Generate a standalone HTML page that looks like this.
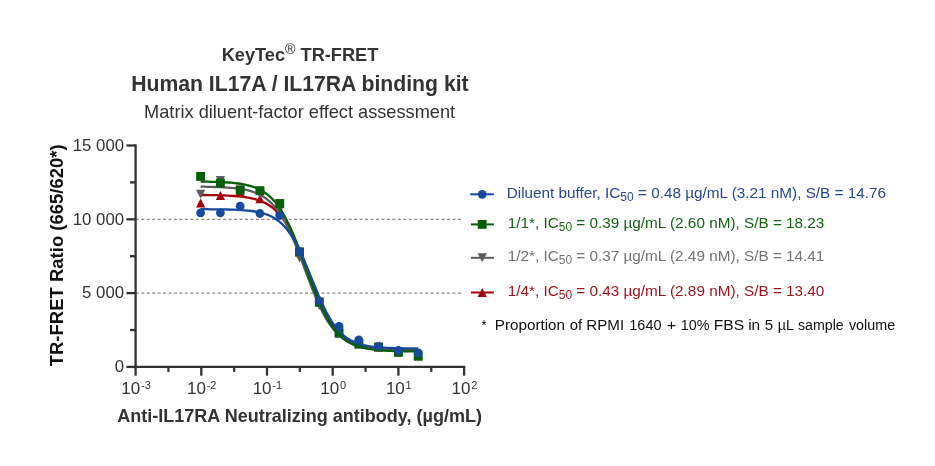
<!DOCTYPE html><html><head><meta charset="utf-8"><style>html,body{margin:0;padding:0;background:#fff}svg{display:block;will-change:transform}text{font-family:"Liberation Sans",sans-serif}</style></head><body>
<svg width="935" height="466" viewBox="0 0 935 466">
<rect width="935" height="466" fill="#fff"/>
<text x="300" y="60.7" text-anchor="middle" font-size="18.2" font-weight="bold" fill="#333333">KeyTec<tspan font-size="14.2" font-weight="normal" dy="-7.1">®</tspan><tspan dy="7.1"> TR-FRET</tspan></text>
<text x="299.9" y="91.3" text-anchor="middle" font-size="21.2" font-weight="bold" fill="#333333">Human IL17A / IL17RA binding kit</text>
<text x="299.6" y="118" text-anchor="middle" font-size="18.2" fill="#333333">Matrix diluent-factor effect assessment</text>
<line x1="135.7" y1="293.10" x2="461.6" y2="293.10" stroke="#8c8c8c" stroke-width="1.2" stroke-dasharray="3.1 2.36"/>
<line x1="135.7" y1="219.30" x2="461.6" y2="219.30" stroke="#8c8c8c" stroke-width="1.2" stroke-dasharray="3.1 2.36"/>
<path d="M200.6 195.0 L204.0 195.0 L207.4 195.1 L210.8 195.1 L214.2 195.2 L217.6 195.2 L221.0 195.3 L224.4 195.4 L227.8 195.6 L231.2 195.8 L234.6 196.0 L238.0 196.3 L241.4 196.6 L244.8 197.1 L248.2 197.6 L251.6 198.3 L255.0 199.1 L258.4 200.2 L261.8 201.4 L265.2 203.0 L268.6 205.0 L272.0 207.3 L275.4 210.2 L278.8 213.6 L282.2 217.7 L285.6 222.4 L289.0 227.9 L292.4 234.2 L295.8 241.2 L299.2 248.9 L302.6 257.1 L306.0 265.7 L309.4 274.4 L312.8 283.1 L316.2 291.6 L319.6 299.5 L323.0 306.9 L326.4 313.6 L329.8 319.5 L333.2 324.7 L336.6 329.1 L340.0 332.8 L343.4 336.0 L346.8 338.6 L350.2 340.8 L353.6 342.5 L357.0 344.0 L360.4 345.1 L363.8 346.1 L367.2 346.8 L370.6 347.5 L374.0 348.0 L377.4 348.4 L380.8 348.7 L384.2 348.9 L387.6 349.1 L391.0 349.3 L394.4 349.4 L397.8 349.5 L401.2 349.6 L404.6 349.7 L408.0 349.7 L411.4 349.8 L414.8 349.8 L418.2 349.8" fill="none" stroke="#a3000b" stroke-width="2.3" stroke-linejoin="round"/>
<path d="M196.02 207.60H205.22L200.62 198.60Z" fill="#a3000b"/>
<path d="M215.80 199.90H225.00L220.40 190.90Z" fill="#a3000b"/>
<path d="M235.58 196.50H244.78L240.18 187.50Z" fill="#a3000b"/>
<path d="M255.36 203.30H264.56L259.96 194.30Z" fill="#a3000b"/>
<path d="M275.13 214.50H284.33L279.73 205.50Z" fill="#a3000b"/>
<path d="M294.91 256.50H304.11L299.51 247.50Z" fill="#a3000b"/>
<path d="M314.69 306.50H323.89L319.29 297.50Z" fill="#a3000b"/>
<path d="M334.47 335.50H343.67L339.07 326.50Z" fill="#a3000b"/>
<path d="M354.24 346.50H363.44L358.84 337.50Z" fill="#a3000b"/>
<path d="M374.02 351.50H383.22L378.62 342.50Z" fill="#a3000b"/>
<path d="M393.80 355.50H403.00L398.40 346.50Z" fill="#a3000b"/>
<path d="M413.58 358.50H422.78L418.18 349.50Z" fill="#a3000b"/>
<path d="M200.6 186.7 L204.0 186.7 L207.4 186.8 L210.8 186.9 L214.2 187.0 L217.6 187.1 L221.0 187.2 L224.4 187.4 L227.8 187.6 L231.2 187.8 L234.6 188.1 L238.0 188.5 L241.4 189.0 L244.8 189.7 L248.2 190.4 L251.6 191.4 L255.0 192.5 L258.4 194.0 L261.8 195.7 L265.2 197.9 L268.6 200.5 L272.0 203.7 L275.4 207.4 L278.8 211.8 L282.2 217.0 L285.6 223.0 L289.0 229.7 L292.4 237.2 L295.8 245.4 L299.2 254.1 L302.6 263.1 L306.0 272.3 L309.4 281.4 L312.8 290.1 L316.2 298.4 L319.6 306.1 L323.0 313.0 L326.4 319.1 L329.8 324.4 L333.2 329.0 L336.6 332.8 L340.0 336.1 L343.4 338.8 L346.8 341.1 L350.2 342.9 L353.6 344.4 L357.0 345.6 L360.4 346.6 L363.8 347.4 L367.2 348.0 L370.6 348.6 L374.0 349.0 L377.4 349.3 L380.8 349.6 L384.2 349.8 L387.6 350.0 L391.0 350.1 L394.4 350.2 L397.8 350.3 L401.2 350.4 L404.6 350.4 L408.0 350.5 L411.4 350.5 L414.8 350.5 L418.2 350.6" fill="none" stroke="#5c5c5c" stroke-width="2.3" stroke-linejoin="round"/>
<path d="M196.02 189.80H205.22L200.62 198.80Z" fill="#5c5c5c"/>
<path d="M215.80 176.10H225.00L220.40 185.10Z" fill="#5c5c5c"/>
<path d="M235.58 185.50H244.78L240.18 194.50Z" fill="#5c5c5c"/>
<path d="M255.36 189.70H264.56L259.96 198.70Z" fill="#5c5c5c"/>
<path d="M275.13 205.30H284.33L279.73 214.30Z" fill="#5c5c5c"/>
<path d="M294.91 253.50H304.11L299.51 262.50Z" fill="#5c5c5c"/>
<path d="M314.69 301.00H323.89L319.29 310.00Z" fill="#5c5c5c"/>
<path d="M334.47 328.50H343.67L339.07 337.50Z" fill="#5c5c5c"/>
<path d="M354.24 339.50H363.44L358.84 348.50Z" fill="#5c5c5c"/>
<path d="M374.02 343.50H383.22L378.62 352.50Z" fill="#5c5c5c"/>
<path d="M393.80 347.50H403.00L398.40 356.50Z" fill="#5c5c5c"/>
<path d="M413.58 350.50H422.78L418.18 359.50Z" fill="#5c5c5c"/>
<path d="M200.6 181.6 L204.0 181.6 L207.4 181.7 L210.8 181.8 L214.2 181.9 L217.6 182.0 L221.0 182.1 L224.4 182.3 L227.8 182.5 L231.2 182.7 L234.6 183.1 L238.0 183.5 L241.4 184.0 L244.8 184.6 L248.2 185.3 L251.6 186.3 L255.0 187.5 L258.4 188.9 L261.8 190.7 L265.2 192.8 L268.6 195.4 L272.0 198.6 L275.4 202.3 L278.8 206.8 L282.2 212.0 L285.6 218.0 L289.0 224.8 L292.4 232.3 L295.8 240.6 L299.2 249.5 L302.6 258.7 L306.0 268.2 L309.4 277.6 L312.8 286.7 L316.2 295.4 L319.6 303.5 L323.0 310.8 L326.4 317.3 L329.8 323.0 L333.2 327.9 L336.6 332.1 L340.0 335.6 L343.4 338.5 L346.8 341.0 L350.2 343.0 L353.6 344.6 L357.0 346.0 L360.4 347.0 L363.8 347.9 L367.2 348.6 L370.6 349.2 L374.0 349.7 L377.4 350.0 L380.8 350.3 L384.2 350.6 L387.6 350.8 L391.0 350.9 L394.4 351.1 L397.8 351.2 L401.2 351.2 L404.6 351.3 L408.0 351.3 L411.4 351.4 L414.8 351.4 L418.2 351.4" fill="none" stroke="#065f06" stroke-width="2.3" stroke-linejoin="round"/>
<rect x="196.17" y="171.95" width="8.9" height="8.9" fill="#065f06"/>
<rect x="215.95" y="178.65" width="8.9" height="8.9" fill="#065f06"/>
<rect x="235.73" y="185.65" width="8.9" height="8.9" fill="#065f06"/>
<rect x="255.51" y="186.25" width="8.9" height="8.9" fill="#065f06"/>
<rect x="275.28" y="199.05" width="8.9" height="8.9" fill="#065f06"/>
<rect x="295.06" y="247.35" width="8.9" height="8.9" fill="#065f06"/>
<rect x="314.84" y="297.55" width="8.9" height="8.9" fill="#065f06"/>
<rect x="334.62" y="328.85" width="8.9" height="8.9" fill="#065f06"/>
<rect x="354.39" y="339.75" width="8.9" height="8.9" fill="#065f06"/>
<rect x="374.17" y="342.55" width="8.9" height="8.9" fill="#065f06"/>
<rect x="393.95" y="347.95" width="8.9" height="8.9" fill="#065f06"/>
<rect x="413.73" y="351.85" width="8.9" height="8.9" fill="#065f06"/>
<path d="M200.6 209.2 L204.0 209.2 L207.4 209.2 L210.8 209.3 L214.2 209.3 L217.6 209.3 L221.0 209.4 L224.4 209.4 L227.8 209.5 L231.2 209.6 L234.6 209.7 L238.0 209.9 L241.4 210.1 L244.8 210.3 L248.2 210.6 L251.6 211.0 L255.0 211.5 L258.4 212.2 L261.8 213.0 L265.2 214.0 L268.6 215.2 L272.0 216.8 L275.4 218.8 L278.8 221.2 L282.2 224.1 L285.6 227.7 L289.0 232.0 L292.4 237.0 L295.8 242.9 L299.2 249.5 L302.6 256.8 L306.0 264.7 L309.4 272.9 L312.8 281.4 L316.2 289.8 L319.6 297.9 L323.0 305.4 L326.4 312.3 L329.8 318.4 L333.2 323.8 L336.6 328.3 L340.0 332.2 L343.4 335.4 L346.8 338.0 L350.2 340.1 L353.6 341.8 L357.0 343.2 L360.4 344.3 L363.8 345.2 L367.2 345.9 L370.6 346.4 L374.0 346.9 L377.4 347.2 L380.8 347.5 L384.2 347.7 L387.6 347.9 L391.0 348.0 L394.4 348.1 L397.8 348.2 L401.2 348.2 L404.6 348.3 L408.0 348.3 L411.4 348.4 L414.8 348.4 L418.2 348.4" fill="none" stroke="#174a9e" stroke-width="2.3" stroke-linejoin="round"/>
<circle cx="200.62" cy="212.80" r="4.4" fill="#174a9e"/>
<circle cx="220.40" cy="212.80" r="4.4" fill="#174a9e"/>
<circle cx="240.18" cy="206.20" r="4.4" fill="#174a9e"/>
<circle cx="259.96" cy="213.50" r="4.4" fill="#174a9e"/>
<circle cx="279.73" cy="215.30" r="4.4" fill="#174a9e"/>
<circle cx="299.51" cy="251.60" r="4.4" fill="#174a9e"/>
<circle cx="319.29" cy="300.90" r="4.4" fill="#174a9e"/>
<circle cx="339.07" cy="326.40" r="4.4" fill="#174a9e"/>
<circle cx="358.84" cy="339.90" r="4.4" fill="#174a9e"/>
<circle cx="378.62" cy="346.30" r="4.4" fill="#174a9e"/>
<circle cx="398.40" cy="350.50" r="4.4" fill="#174a9e"/>
<circle cx="418.18" cy="352.90" r="4.4" fill="#174a9e"/>
<path d="M135.60 144.35V366.90" stroke="#333333" stroke-width="2.3" fill="none"/>
<path d="M134.45 366.90H465.25" stroke="#333333" stroke-width="2.3" fill="none"/>
<line x1="126.40" x2="135.60" y1="366.90" y2="366.90" stroke="#333333" stroke-width="2.3"/>
<line x1="126.40" x2="135.60" y1="293.10" y2="293.10" stroke="#333333" stroke-width="2.3"/>
<line x1="126.40" x2="135.60" y1="219.30" y2="219.30" stroke="#333333" stroke-width="2.3"/>
<line x1="126.40" x2="135.60" y1="145.50" y2="145.50" stroke="#333333" stroke-width="2.3"/>
<line x1="130.00" x2="135.60" y1="330.00" y2="330.00" stroke="#333333" stroke-width="2.3"/>
<line x1="130.00" x2="135.60" y1="256.20" y2="256.20" stroke="#333333" stroke-width="2.3"/>
<line x1="130.00" x2="135.60" y1="182.40" y2="182.40" stroke="#333333" stroke-width="2.3"/>
<line x1="135.60" x2="135.60" y1="366.90" y2="375.70" stroke="#333333" stroke-width="2.3"/>
<line x1="168.45" x2="168.45" y1="366.90" y2="371.90" stroke="#333333" stroke-width="2.3"/>
<text x="136.00" y="394" text-anchor="middle" font-size="17" fill="#333333">10<tspan font-size="11" dy="-4.7" dx="0.8">-3</tspan></text>
<line x1="201.30" x2="201.30" y1="366.90" y2="375.70" stroke="#333333" stroke-width="2.3"/>
<line x1="234.15" x2="234.15" y1="366.90" y2="371.90" stroke="#333333" stroke-width="2.3"/>
<text x="201.70" y="394" text-anchor="middle" font-size="17" fill="#333333">10<tspan font-size="11" dy="-4.7" dx="0.8">-2</tspan></text>
<line x1="267.00" x2="267.00" y1="366.90" y2="375.70" stroke="#333333" stroke-width="2.3"/>
<line x1="299.85" x2="299.85" y1="366.90" y2="371.90" stroke="#333333" stroke-width="2.3"/>
<text x="267.40" y="394" text-anchor="middle" font-size="17" fill="#333333">10<tspan font-size="11" dy="-4.7" dx="0.8">-1</tspan></text>
<line x1="332.70" x2="332.70" y1="366.90" y2="375.70" stroke="#333333" stroke-width="2.3"/>
<line x1="365.55" x2="365.55" y1="366.90" y2="371.90" stroke="#333333" stroke-width="2.3"/>
<text x="333.10" y="394" text-anchor="middle" font-size="17" fill="#333333">10<tspan font-size="11" dy="-4.7" dx="0.8">0</tspan></text>
<line x1="398.40" x2="398.40" y1="366.90" y2="375.70" stroke="#333333" stroke-width="2.3"/>
<line x1="431.25" x2="431.25" y1="366.90" y2="371.90" stroke="#333333" stroke-width="2.3"/>
<text x="398.80" y="394" text-anchor="middle" font-size="17" fill="#333333">10<tspan font-size="11" dy="-4.7" dx="0.8">1</tspan></text>
<line x1="464.10" x2="464.10" y1="366.90" y2="375.70" stroke="#333333" stroke-width="2.3"/>
<text x="464.50" y="394" text-anchor="middle" font-size="17" fill="#333333">10<tspan font-size="11" dy="-4.7" dx="0.8">2</tspan></text>
<text x="124.1" y="372.10" text-anchor="end" font-size="16.8" fill="#333333">0</text>
<text x="124.1" y="298.30" text-anchor="end" font-size="16.8" fill="#333333">5 000</text>
<text x="124.1" y="224.50" text-anchor="end" font-size="16.8" fill="#333333">10 000</text>
<text x="124.1" y="150.70" text-anchor="end" font-size="16.8" fill="#333333">15 000</text>
<text transform="translate(63.4 255.3) rotate(-90)" text-anchor="middle" font-size="18.5" font-weight="bold" fill="#111">TR-FRET Ratio (665/620*)</text>
<text x="299.6" y="421.5" text-anchor="middle" font-size="18.03" font-weight="bold" fill="#333333">Anti-IL17RA Neutralizing antibody, (µg/mL)</text>
<line x1="470.2" x2="493.9" y1="194.3" y2="194.3" stroke="#174a9e" stroke-width="2"/>
<circle cx="482.20" cy="194.30" r="4.4" fill="#174a9e"/>
<text x="506.7" y="198.2" font-size="15.3" fill="#26498f">Diluent buffer, IC<tspan font-size="12" dy="2.8">50</tspan><tspan dy="-2.8"> = 0.48 µg/mL (3.21 nM), S/B = 14.76</tspan></text>
<line x1="470.9" x2="493.9" y1="224.4" y2="224.4" stroke="#065f06" stroke-width="2"/>
<rect x="477.75" y="219.95" width="8.9" height="8.9" fill="#065f06"/>
<text x="507.7" y="227.7" font-size="15.3" fill="#146414">1/1*, IC<tspan font-size="12" dy="2.8">50</tspan><tspan dy="-2.8"> = 0.39 µg/mL (2.60 nM), S/B = 18.23</tspan></text>
<line x1="470.9" x2="493.9" y1="257.8" y2="257.8" stroke="#5c5c5c" stroke-width="2"/>
<path d="M477.60 253.30H486.80L482.20 262.30Z" fill="#5c5c5c"/>
<text x="507.7" y="260.9" font-size="15.3" fill="#737373">1/2*, IC<tspan font-size="12" dy="2.8">50</tspan><tspan dy="-2.8"> = 0.37 µg/mL (2.49 nM), S/B = 14.41</tspan></text>
<line x1="470.9" x2="493.9" y1="292.5" y2="292.5" stroke="#a3000b" stroke-width="2"/>
<path d="M477.60 297.00H486.80L482.20 288.00Z" fill="#a3000b"/>
<text x="507.7" y="296.1" font-size="15.3" fill="#9b1219">1/4*, IC<tspan font-size="12" dy="2.8">50</tspan><tspan dy="-2.8"> = 0.43 µg/mL (2.89 nM), S/B = 13.40</tspan></text>
<text x="481.45" y="329.8" font-size="15.2" fill="#111" textLength="5.09" lengthAdjust="spacingAndGlyphs">*</text>
<text x="494.83" y="329.8" font-size="15.2" fill="#111" textLength="70.21" lengthAdjust="spacingAndGlyphs">Proportion</text>
<text x="569.69" y="329.8" font-size="15.2" fill="#111" textLength="12.48" lengthAdjust="spacingAndGlyphs">of</text>
<text x="586.28" y="329.8" font-size="15.2" fill="#111" textLength="37.85" lengthAdjust="spacingAndGlyphs">RPMI</text>
<text x="629.34" y="329.8" font-size="15.2" fill="#111" textLength="32.12" lengthAdjust="spacingAndGlyphs">1640</text>
<text x="666.69" y="329.8" font-size="15.2" fill="#111" textLength="9.38" lengthAdjust="spacingAndGlyphs">+</text>
<text x="680.74" y="329.8" font-size="15.2" fill="#111" textLength="28.71" lengthAdjust="spacingAndGlyphs">10%</text>
<text x="713.78" y="329.8" font-size="15.2" fill="#111" textLength="30.28" lengthAdjust="spacingAndGlyphs">FBS</text>
<text x="748.19" y="329.8" font-size="15.2" fill="#111" textLength="11.97" lengthAdjust="spacingAndGlyphs">in</text>
<text x="764.79" y="329.8" font-size="15.2" fill="#111" textLength="8.36" lengthAdjust="spacingAndGlyphs">5</text>
<text x="777.79" y="329.8" font-size="15.2" fill="#111" textLength="16.11" lengthAdjust="spacingAndGlyphs">µL</text>
<text x="798.00" y="329.8" font-size="15.2" fill="#111" textLength="45.76" lengthAdjust="spacingAndGlyphs">sample</text>
<text x="848.90" y="329.8" font-size="15.2" fill="#111" textLength="46.26" lengthAdjust="spacingAndGlyphs">volume</text>
</svg></body></html>
